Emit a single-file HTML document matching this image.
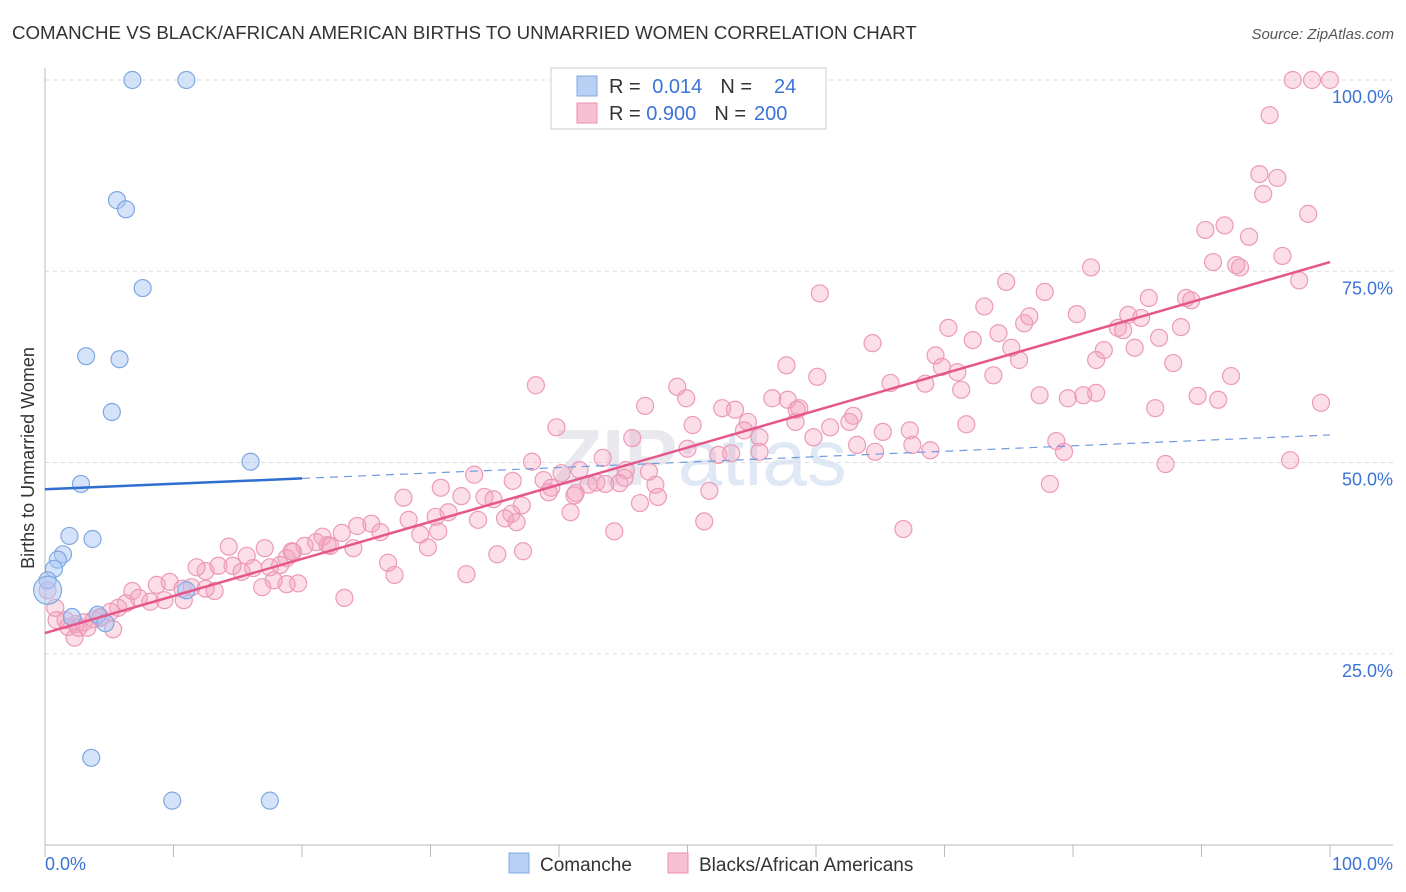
<!DOCTYPE html>
<html><head><meta charset="utf-8">
<style>
body{margin:0;background:#fff;font-family:"Liberation Sans",sans-serif;}
#wrap{position:relative;width:1406px;height:892px;overflow:hidden;}
svg text{font-family:"Liberation Sans",sans-serif;}
</style></head>
<body>
<div id="wrap">
<svg id="chart" width="1406" height="892">
<text x="12" y="39" font-size="18.7" fill="#333">COMANCHE VS BLACK/AFRICAN AMERICAN BIRTHS TO UNMARRIED WOMEN CORRELATION CHART</text>
<text x="1394" y="39" font-size="15" fill="#555" text-anchor="end" font-style="italic">Source: ZipAtlas.com</text>
<text x="700" y="485" font-size="80" fill="#e8e8ee" text-anchor="middle" font-weight="bold">ZIP<tspan fill="#dfe8f5" font-weight="normal">atlas</tspan></text>
<text transform="translate(34,458) rotate(-90)" font-size="18" fill="#333" text-anchor="middle">Births to Unmarried Women</text>
<g id="grid"></g>
<g id="axes"></g>
<g id="pts"></g>
<g id="trend"></g>
<g>
<rect x="551" y="68" width="275" height="61" fill="#fff" stroke="#ccc"/>
<rect x="577" y="76" width="20" height="20" fill="#b8d0f4" stroke="#7fa8e0"/>
<rect x="577" y="103" width="20" height="20" fill="#f8c0d2" stroke="#eb8fb0"/>
<text x="609" y="93" font-size="20" fill="#333">R = <tspan fill="#3b73d6" dx="6">0.014</tspan><tspan fill="#333" dx="18">N =</tspan><tspan fill="#3b73d6" dx="22">24</tspan></text>
<text x="609" y="120" font-size="20" fill="#333">R = <tspan fill="#3b73d6">0.900</tspan><tspan fill="#333" dx="18">N =</tspan><tspan fill="#3b73d6" dx="8">200</tspan></text>
</g>
<g>
<rect x="509" y="853" width="20" height="20" fill="#b8d0f4" stroke="#7fa8e0"/>
<text x="540" y="871" font-size="19" fill="#333">Comanche</text>
<rect x="668" y="853" width="20" height="20" fill="#f8c0d2" stroke="#eb8fb0"/>
<text x="699" y="871" font-size="19" fill="#333">Blacks/African Americans</text>
</g>
</svg>
</div>
<script>
const yTicks=[25,50,75,100];
const yTickLabels=["25.0%","50.0%","75.0%","100.0%"];
const xTickCount=10;
const comancheX=[6.8,11.0,5.6,6.3,7.6,3.2,5.8,5.2,16.0,2.8,1.9,3.7,1.4,1.0,0.7,0.2,0.2,2.1,4.1,4.7,11.0,3.6,9.9,17.5];
const comancheY=[100,100,84.3,83.1,72.8,63.9,63.5,56.6,50.1,47.2,40.4,40.0,38.0,37.3,36.1,34.6,33.3,29.8,30.1,29.0,33.3,11.4,5.8,5.8];
const blackX=[97.1,98.6,100,95.3,94.5,95.9,94.8,98.3,90.3,91.8,93.7,96.3,90.9,92.7,93.0,97.6,81.4,74.8,77.8,73.1,60.3,85.9,88.8,89.2,80.3,84.3,85.3,70.3,76.2,76.6,83.5,83.9,88.4,64.4,74.2,72.2,86.7,82.4,84.8,75.2,75.8,69.3,69.8,71.0,81.8,87.8,65.8,68.5,57.7,60.1,73.8,92.3,38.2,49.2,49.9,52.7,53.7,56.6,58.7,57.8,58.5,71.3,77.4,79.6,80.8,81.8,89.7,91.3,99.3,46.7,62.9,58.4,62.6,54.7,61.1,55.6,59.8,65.2,54.4,45.7,50.4,39.8,67.3,71.7,86.4,63.2,64.6,67.5,68.9,78.7,79.3,50.0,52.4,53.4,55.6,43.4,41.6,45.2,45.1,44.7,42.9,47.0,47.5,33.4,37.9,40.2,36.4,38.8,39.4,41.3,96.9,87.2,78.2,51.7,43.6,42.3,27.9,30.8,32.4,34.2,34.9,36.3,37.1,41.2,39.2,47.7,46.3,30.4,31.4,33.7,35.8,36.7,40.9,44.3,51.3,66.8,25.4,26.1,28.3,29.2,30.6,29.8,24.3,23.1,21.6,21.1,22.0,20.2,19.3,18.8,24.0,22.2,17.1,15.7,14.3,13.5,14.6,15.3,16.2,17.5,18.3,19.2,26.7,27.2,35.2,37.2,32.8,23.3,17.8,18.8,19.7,16.9,12.5,11.8,8.7,9.7,10.7,11.4,12.5,13.2,6.8,7.3,8.2,6.3,9.3,10.8,5.7,5.1,4.3,3.8,3.0,2.4,1.6,0.9,0.8,0.2,1.8,2.6,3.3,5.3,2.3,4.3];
const blackY=[100,100,100,95.4,87.7,87.2,85.1,82.5,80.4,81.0,79.5,77.0,76.2,75.8,75.5,73.8,75.5,73.6,72.3,70.4,72.1,71.5,71.5,71.2,69.4,69.3,68.9,67.6,68.2,69.1,67.6,67.3,67.7,65.6,66.9,66.0,66.3,64.7,65.0,65.0,63.4,64.0,62.5,61.8,63.4,63.0,60.4,60.3,62.7,61.2,61.4,61.3,60.1,59.9,58.4,57.1,56.9,58.4,57.1,58.2,56.9,59.5,58.8,58.4,58.8,59.1,58.7,58.2,57.8,57.4,56.1,55.3,55.3,55.3,54.6,53.3,53.3,54.0,54.2,53.2,54.9,54.6,54.2,55.0,57.1,52.3,51.4,52.3,51.6,52.8,51.4,51.8,51.0,51.2,51.4,50.6,49.0,49.0,48.0,47.3,47.4,48.8,47.1,48.4,50.1,48.6,47.6,47.7,46.7,46.0,50.3,49.8,47.2,46.3,47.2,47.1,45.4,46.7,45.6,45.5,45.2,43.3,44.4,45.7,46.1,45.5,44.7,42.9,43.5,42.5,42.7,42.2,43.5,41.0,42.3,41.3,42.0,40.9,42.5,40.6,41.0,38.9,41.7,40.8,40.3,39.6,39.2,39.1,38.3,37.5,38.8,39.1,38.8,37.8,39.0,36.5,36.5,35.7,36.2,36.3,36.6,38.4,36.9,35.3,38.0,38.4,35.4,32.3,34.6,34.1,34.2,33.7,35.8,36.3,34.0,34.4,33.5,33.7,33.5,33.2,33.2,32.3,31.8,31.6,32.0,32.0,31.0,30.5,29.8,29.5,29.1,28.9,29.4,29.4,31.0,33.3,28.5,28.4,28.4,28.2,27.1,29.7];
const comancheTrend=[46.5,53.6];
const blackTrend=[27.7,76.2];

const NS="http://www.w3.org/2000/svg";
const X0=45,X1=1330,Y0=845,Y100=80;
const sx=v=>X0+(X1-X0)*v/100;
const sy=v=>Y0-(Y0-Y100)*v/100;
function mk(tag,attrs,parent){const e=document.createElementNS(NS,tag);for(const k in attrs)e.setAttribute(k,attrs[k]);parent.appendChild(e);return e;}
const grid=document.getElementById('grid'),axes=document.getElementById('axes'),pts=document.getElementById('pts'),trend=document.getElementById('trend');
yTicks.forEach((t,i)=>{
  const l=mk('line',{x1:45,x2:1393,y1:sy(t),y2:sy(t),stroke:'#ddd','stroke-dasharray':'4,4'},grid);
  
  
  const tx=mk('text',{x:1393,y:sy(t)+23,'font-size':18,fill:'#3b73d6','text-anchor':'end'},axes);
  tx.textContent=yTickLabels[i];
  
  
});
const ya=mk('line',{x1:45,x2:45,y1:68,y2:845,stroke:'#bbb'},axes);


const xa=mk('line',{x1:45,x2:1393,y1:845,y2:845,stroke:'#bbb'},axes);


for(let i=0;i<=xTickCount;i++){
  const t=mk('line',{x1:sx(i*10),x2:sx(i*10),y1:845,y2:857,stroke:'#bbb'},axes);
  
  
}
const xl0=mk('text',{x:45,y:870,'font-size':18,fill:'#3b73d6'},axes);xl0.textContent='0.0%';


const xl1=mk('text',{x:1393,y:870,'font-size':18,fill:'#3b73d6','text-anchor':'end'},axes);xl1.textContent='100.0%';


blackX.forEach((x,i)=>{
  const c=mk('circle',{cx:sx(x),cy:sy(blackY[i]),r:8.5,fill:'rgba(244,160,190,0.35)',stroke:'#ec9ab8','stroke-width':1.2},pts);
  
  
});
comancheX.forEach((x,i)=>{
  const c=mk('circle',{cx:sx(x),cy:sy(comancheY[i]),r:i===16?14:8.5,fill:'rgba(170,200,245,0.5)',stroke:'#7fa8e0','stroke-width':1.2},pts);
  
  
});
const cy=v=>comancheTrend[0]+(comancheTrend[1]-comancheTrend[0])*v/100;
const t1=mk('line',{x1:sx(0),y1:sy(cy(0)),x2:sx(20),y2:sy(cy(20)),stroke:'#2f6fd0','stroke-width':2.5},trend);


const t2=mk('line',{x1:sx(20),y1:sy(cy(20)),x2:sx(100),y2:sy(cy(100)),stroke:'#6f9ae0','stroke-width':1.2,'stroke-dasharray':'8,6'},trend);


const t3=mk('line',{x1:sx(0),y1:sy(blackTrend[0]),x2:sx(100),y2:sy(blackTrend[1]),stroke:'#e5578a','stroke-width':2.5},trend);


</script>
</body></html>
